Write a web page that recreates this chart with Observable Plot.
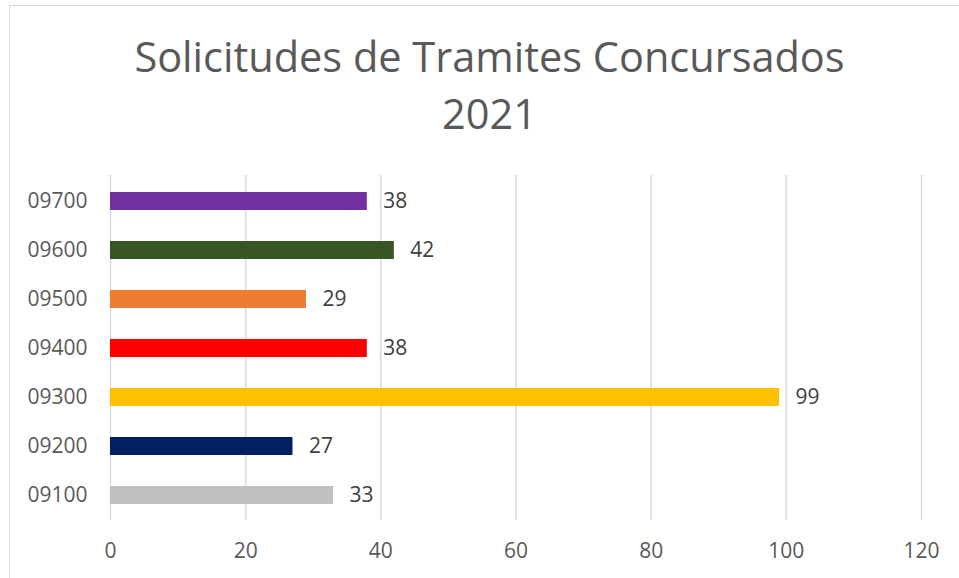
<!DOCTYPE html>
<html>
<head>
<meta charset="utf-8">
<script src="https://cdn.jsdelivr.net/npm/d3@7"></script>
<script src="https://cdn.jsdelivr.net/npm/@observablehq/plot@0.6"></script>
<style>
  html, body { margin: 0; padding: 0; background: #fff; overflow: hidden; }
  #wrap { position: relative; width: 959px; height: 578px; overflow: hidden; font-family: "Open Sans", sans-serif; }
  #frame { position: absolute; left: 9px; top: 5px; width: 1000px; height: 1000px; border: 1px solid #d9d9d9; box-sizing: border-box; }
  #title { position: absolute; left: 0px; right: -20px; top: 28px; text-align: center; color: #595959; font-size: 41.5px; line-height: 57px; font-family: "Open Sans", sans-serif; }
  #chart { position: absolute; left: 0; top: 0; }
</style>
</head>
<body>
<div id="wrap">
  <div id="frame"></div>
  <div id="chart"></div>
  <div id="title">Solicitudes de Tramites Concursados<br>2021</div>
</div>
<script>
const categories = ["09700", "09600", "09500", "09400", "09300", "09200", "09100"];
const values = [38, 42, 29, 38, 99, 27, 33];
const colors = ["#7030A0", "#375623", "#ED7D31", "#FF0000", "#FFC000", "#002060", "#BFBFBF"];
const xTicks = [0, 20, 40, 60, 80, 100, 120];

const data = categories.map((c, i) => ({cat: c, value: values[i], color: colors[i]}));

const chart = Plot.plot({
  width: 959,
  height: 578,
  marginLeft: 110,
  marginRight: 38,
  marginTop: 175,
  marginBottom: 58,
  style: {fontFamily: "Open Sans, sans-serif", fontSize: "21px", background: "transparent"},
  x: {domain: [0, 120], ticks: xTicks, label: null},
  y: {domain: categories, paddingInner: 0.635, paddingOuter: 0.3175, label: null},
  marks: [
    Plot.ruleX(xTicks, {stroke: "#d9d9d9", strokeWidth: 1.5}),
    Plot.axisX({ticks: xTicks, tickSize: 0, tickPadding: 23, fill: "#595959", fontSize: 21, label: null}),
    Plot.axisY({tickSize: 0, tickPadding: 23, fill: "#595959", fontSize: 21, label: null}),
    Plot.barX(data, {x: "value", y: "cat", fill: "color"}),
    Plot.text(data, {x: "value", y: "cat", text: d => String(d.value), textAnchor: "start", dx: 16, fill: "#404040", fontSize: 21})
  ]
});
document.getElementById("chart").appendChild(chart);
</script>
</body>
</html>
